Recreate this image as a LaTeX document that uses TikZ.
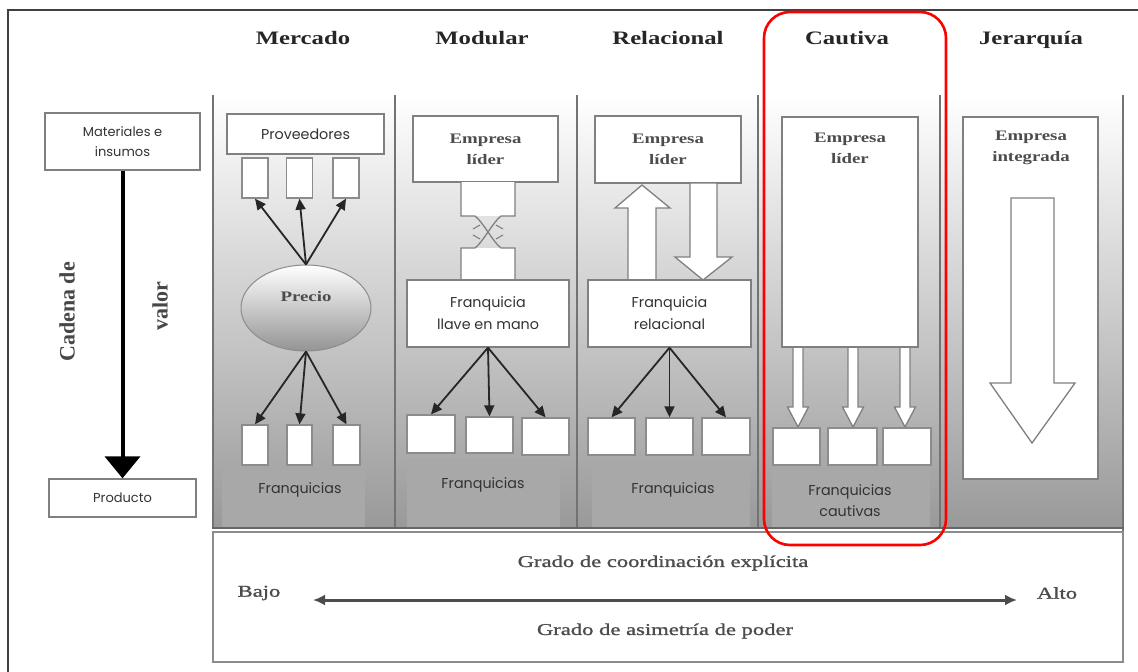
\documentclass[tikz,border=0pt]{standalone}
\usepackage{fontspec}
\setmainfont{Liberation Serif}
\newfontfamily\ttlfont[FakeStretch=1.3]{Liberation Serif}
\newfontfamily\botfont[FakeStretch=1.37,FakeBold=1.3]{Liberation Serif}
\newfontfamily\sansf{Poppins}
\usetikzlibrary{arrows.meta,shapes.geometric}
\begin{document}
\begin{tikzpicture}[x=1pt,y=-1pt,
  wbox/.style={draw=black!50, line width=1.3pt, fill=white, inner sep=0pt, align=center},
  sbox/.style={wbox, draw=black!45},
  sanstxt/.style={font=\sansf\fontsize{14.3}{22}\selectfont, text=black!80, align=center},
  sertxt/.style={font=\ttlfont\bfseries\fontsize{14.5}{21}\selectfont, text=black!70, align=center},
  coltitle/.style={font=\ttlfont\bfseries\fontsize{19}{22}\selectfont, text=black!85, anchor=base},
  bottxt/.style={font=\botfont\fontsize{16.5}{20}\selectfont, text=black!70},
  sidetxt/.style={font=\bfseries\fontsize{22}{24}\selectfont, text=black!72, rotate=90},
  conn/.style={line width=1.8pt, draw=black!85, -{Triangle[width=10pt,length=11pt]}},
  blockarrow/.style={draw=black!50, line width=1.3pt, fill=white, line join=miter},
  divider/.style={draw=black!55, line width=2.2pt},
  lbg/.style={fill=black!34},
]
\useasboundingbox (0,0) rectangle (1138,672);
\fill[white] (0,0) rectangle (1138,672);

% outer frame
\draw[black!75, line width=1.5pt] (8,680) -- (8,10) -- (1145,10);

% column titles
\node[coltitle] (t1) at (303,44) {Mercado};
\node[coltitle] (t2) at (482,44) {Modular};
\node[coltitle] (t3) at (668,44) {Relacional};
\node[coltitle] (t4) at (847,44) {Cautiva};
\node[coltitle] (t5) at (1031,44) {Jerarquía};

% gray panel
\shade[top color=white, bottom color=black!40] (213,95) rectangle (1123,528);
\fill[lbg] (222,470) rectangle (365,527);
\fill[lbg] (407,458) rectangle (560,527);
\fill[lbg] (592,460) rectangle (750,527);
\fill[lbg] (772,470) rectangle (930,527);
\foreach \xx in {213,395,577,758,940} \draw[divider] (\xx,95) -- (\xx,528);
\draw[divider] (1123,95) -- (1123,540);
\draw[black!60, line width=2pt] (212,528) -- (1124,528);

% bottom scale box
\node[draw=black!45, line width=1.3pt, minimum width=910, minimum height=130, inner sep=0pt] (scale) at (668,597) {};
\node[bottxt] (coord) at (663,563) {Grado de coordinación explícita};
\node[bottxt] (bajo) at (259,593) {Bajo};
\node[bottxt] (alto) at (1057,593) {Alto};
\node[bottxt] (asim) at (665,631) {Grado de asimetría de poder};
\coordinate (al) at (313,600);
\coordinate (ar) at (1017,600);
\draw[{Latex[length=12pt,width=11pt]}-{Latex[length=12pt,width=11pt]}, line width=3pt, black!70] (al) -- (ar);

% value chain (left)
\node[wbox, sanstxt, minimum width=155, minimum height=57, font=\sansf\fontsize{13}{20}\selectfont] (mat) at (122.5,141.5) {Materiales e\\insumos};
\node[wbox, sanstxt, minimum width=147, minimum height=38, font=\sansf\fontsize{13}{20}\selectfont] (prod) at (122.5,498) {Producto};
\draw[line width=4pt, black, -{Triangle[width=35pt,length=22pt]}] (mat.south) -- (prod.north);
\node[sidetxt] (cad) at (67,312) {Cadena de};
\node[sidetxt] (val) at (160,306) {valor};

% Mercado
\node[wbox, sanstxt, minimum width=157, minimum height=40] (prov) at (305.5,134) {Proveedores};
\node[sbox, minimum width=26, minimum height=40] (s1) at (255,178) {};
\node[sbox, minimum width=26, minimum height=40] (s2) at (299.5,178) {};
\node[sbox, minimum width=26, minimum height=40] (s3) at (346,178) {};
\node[ellipse, draw=black!45, line width=1pt, top color=white, bottom color=black!42, minimum width=130, minimum height=86, inner sep=0pt] (precio) at (306,308) {};
\node[sertxt] (pretxt) at (306,297) {Precio};
\node[sbox, minimum width=26, minimum height=40] (f1) at (255,445) {};
\node[sbox, minimum width=25, minimum height=40] (f2) at (299.5,445) {};
\node[sbox, minimum width=27, minimum height=40] (f3) at (346.5,445) {};
\foreach \b in {s1,s2,s3} \draw[conn] (precio.north) -- (\b.south);
\foreach \b in {f1,f2,f3} \draw[conn] (precio.south) -- (\b.north);
\node[sanstxt] (fq1) at (300,490) {Franquicias};

% Modular
\node[wbox, sertxt, minimum width=145, minimum height=66] (el1) at (485.5,149) {Empresa\\líder};
\fill[white] (461,182) rectangle (515,216);
\fill[white] (461,248) rectangle (515,280);
\draw[blockarrow, fill=none] (461,182) -- (461,216) -- (475,216) .. controls (483,222) and (493,242) .. (501,248) -- (515,248) -- (515,280);
\draw[blockarrow, fill=none] (515,182) -- (515,216) -- (501,216) .. controls (493,222) and (483,242) .. (475,248) -- (461,248) -- (461,280);
\draw[black!50, line width=1.1pt] (480,225) -- (473,229) (480,239) -- (473,235) (496,225) -- (503,229) (496,239) -- (503,235);
\node[wbox, sanstxt, minimum width=162, minimum height=67] (fl) at (488,313.5) {Franquicia\\llave en mano};
\node[sbox, minimum width=48, minimum height=38] (m1) at (431,434) {};
\node[sbox, minimum width=47, minimum height=36] (m2) at (489.5,435) {};
\node[sbox, minimum width=47, minimum height=37] (m3) at (545.5,436.5) {};
\foreach \b in {m1,m2,m3} \draw[conn] (fl.south) -- (\b.north);
\node[sanstxt] (fq2) at (483,485) {Franquicias};

% Relacional
\node[wbox, sertxt, minimum width=146, minimum height=67] (el2) at (668,149.5) {Empresa\\líder};
\draw[blockarrow] (628,280) -- (628,208) -- (615,208) -- (642,185) -- (670,208) -- (656,208) -- (656,280) -- cycle;
\draw[blockarrow] (690,183) -- (690,257) -- (675,257) -- (703,280) -- (732,257) -- (717,257) -- (717,183) -- cycle;
\node[wbox, sanstxt, minimum width=163, minimum height=67] (fr) at (669.5,313.5) {Franquicia\\relacional};
\node[sbox, minimum width=47, minimum height=37] (r1) at (611.5,436.5) {};
\node[sbox, minimum width=47, minimum height=37] (r2) at (669.5,436.5) {};
\node[sbox, minimum width=48, minimum height=37] (r3) at (726,436.5) {};
\foreach \b in {r1,r2,r3} \draw[conn] (fr.south) -- (\b.north);
\node[sanstxt] (fq3) at (673,490) {Franquicias};

% Cautiva
\node[wbox, minimum width=136, minimum height=230] (el3) at (850,232) {};
\node[sertxt] (el3t) at (850,148) {Empresa\\líder};
\foreach \xx in {798,853,905}
  \draw[blockarrow] (\xx-5,348) -- (\xx-5,407) -- (\xx-10.5,407) -- (\xx,427) -- (\xx+10.5,407) -- (\xx+5,407) -- (\xx+5,348);
\node[sbox, minimum width=47, minimum height=37] (c1) at (796.5,446.5) {};
\node[sbox, minimum width=49, minimum height=37] (c2) at (852.5,446.5) {};
\node[sbox, minimum width=48, minimum height=37] (c3) at (907,446.5) {};
\node[sanstxt] (fq4) at (850,500.5) {Franquicias\\[-1pt]cautivas};

% Jerarquia
\node[wbox, minimum width=135, minimum height=362] (ei) at (1030.5,298) {};
\node[sertxt] (eit) at (1031,148) {Empresa\\integrada};
\draw[blockarrow] (1011,198) -- (1011,383) -- (990,383) -- (1032,443) -- (1075,383) -- (1054,383) -- (1054,198) -- cycle;

% highlight
\draw[red, line width=2.6pt, rounded corners=26pt] (764,12) rectangle (946,545);
\end{tikzpicture}
\end{document}
